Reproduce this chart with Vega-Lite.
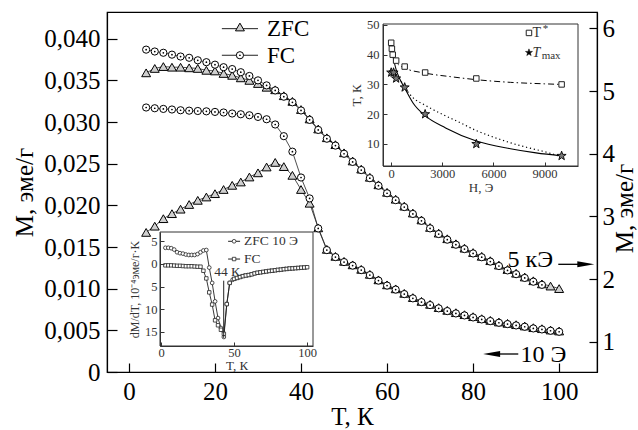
{
"$schema":"https://vega.github.io/schema/vega-lite/v6.json",
"width":490,"height":360,
"autosize":{"type":"none"},
"padding":{"left":107,"top":12,"right":41,"bottom":58},
"background":"white",
"config":{
 "view":{"stroke":"black","strokeWidth":1.2},
 "font":"Liberation Serif",
 "axis":{"grid":false,"domainColor":"black","domainWidth":1.2,"tickColor":"black","tickWidth":1.2,"labelColor":"black","titleColor":"black","labelFont":"Liberation Serif","titleFont":"Liberation Serif","titleFontWeight":"normal","labelOverlap":false,"labelFlush":false},
 "text":{"font":"Liberation Serif"}
},
"datasets":{
 "lo":[
  {"T":4,"M":0.01675,"k":"ZFC"},{"T":6,"M":0.0175,"k":"ZFC"},{"T":8,"M":0.0184,"k":"ZFC"},{"T":10,"M":0.019,"k":"ZFC"},{"T":12,"M":0.01954,"k":"ZFC"},{"T":14,"M":0.0201,"k":"ZFC"},{"T":16,"M":0.0206,"k":"ZFC"},{"T":18,"M":0.021,"k":"ZFC"},{"T":20,"M":0.0214,"k":"ZFC"},{"T":22,"M":0.0219,"k":"ZFC"},{"T":24,"M":0.0224,"k":"ZFC"},{"T":26,"M":0.0228,"k":"ZFC"},{"T":28,"M":0.0234,"k":"ZFC"},{"T":30,"M":0.0239,"k":"ZFC"},{"T":32,"M":0.0246,"k":"ZFC"},{"T":34,"M":0.02515,"k":"ZFC"},{"T":36,"M":0.02465,"k":"ZFC"},{"T":38,"M":0.0236,"k":"ZFC"},{"T":40,"M":0.0219,"k":"ZFC"},{"T":42,"M":0.02025,"k":"ZFC"},{"T":44,"M":0.0173,"k":"ZFC"},{"T":46,"M":0.01472,"k":"ZFC"},{"T":48,"M":0.01388,"k":"ZFC"},{"T":50,"M":0.01328,"k":"ZFC"},{"T":52,"M":0.01286,"k":"ZFC"},{"T":54,"M":0.01232,"k":"ZFC"},{"T":56,"M":0.01172,"k":"ZFC"},{"T":58,"M":0.01106,"k":"ZFC"},{"T":60,"M":0.01046,"k":"ZFC"},{"T":62,"M":0.00998,"k":"ZFC"},{"T":64,"M":0.00944,"k":"ZFC"},{"T":66,"M":0.00893,"k":"ZFC"},{"T":68,"M":0.00848,"k":"ZFC"},{"T":70,"M":0.00812,"k":"ZFC"},{"T":72,"M":0.00773,"k":"ZFC"},{"T":74,"M":0.0074,"k":"ZFC"},{"T":76,"M":0.00712,"k":"ZFC"},{"T":78,"M":0.00688,"k":"ZFC"},{"T":80,"M":0.00664,"k":"ZFC"},{"T":82,"M":0.0064,"k":"ZFC"},{"T":84,"M":0.0062,"k":"ZFC"},{"T":86,"M":0.006,"k":"ZFC"},{"T":88,"M":0.00584,"k":"ZFC"},{"T":90,"M":0.00568,"k":"ZFC"},{"T":92,"M":0.00552,"k":"ZFC"},{"T":94,"M":0.00532,"k":"ZFC"},{"T":96,"M":0.0052,"k":"ZFC"},{"T":98,"M":0.00504,"k":"ZFC"},{"T":100,"M":0.00492,"k":"ZFC"},
  {"T":4,"M":0.03174,"k":"FC"},{"T":6,"M":0.03165,"k":"FC"},{"T":8,"M":0.03157,"k":"FC"},{"T":10,"M":0.0315,"k":"FC"},{"T":12,"M":0.03141,"k":"FC"},{"T":14,"M":0.03136,"k":"FC"},{"T":16,"M":0.03132,"k":"FC"},{"T":18,"M":0.03128,"k":"FC"},{"T":20,"M":0.03121,"k":"FC"},{"T":22,"M":0.03114,"k":"FC"},{"T":24,"M":0.03102,"k":"FC"},{"T":26,"M":0.03093,"k":"FC"},{"T":28,"M":0.03081,"k":"FC"},{"T":30,"M":0.03061,"k":"FC"},{"T":32,"M":0.03033,"k":"FC"},{"T":34,"M":0.0297,"k":"FC"},{"T":36,"M":0.0283,"k":"FC"},{"T":38,"M":0.02644,"k":"FC"},{"T":40,"M":0.02334,"k":"FC"},{"T":42,"M":0.02083,"k":"FC"},{"T":44,"M":0.01723,"k":"FC"},{"T":46,"M":0.01463,"k":"FC"},{"T":48,"M":0.01379,"k":"FC"},{"T":50,"M":0.01319,"k":"FC"},{"T":52,"M":0.01277,"k":"FC"},{"T":54,"M":0.01223,"k":"FC"},{"T":56,"M":0.01163,"k":"FC"},{"T":58,"M":0.01097,"k":"FC"},{"T":60,"M":0.01037,"k":"FC"},{"T":62,"M":0.00989,"k":"FC"},{"T":64,"M":0.00935,"k":"FC"},{"T":66,"M":0.00884,"k":"FC"},{"T":68,"M":0.00839,"k":"FC"},{"T":70,"M":0.00803,"k":"FC"},{"T":72,"M":0.00764,"k":"FC"},{"T":74,"M":0.00731,"k":"FC"},{"T":76,"M":0.00703,"k":"FC"},{"T":78,"M":0.00679,"k":"FC"},{"T":80,"M":0.00655,"k":"FC"},{"T":82,"M":0.00631,"k":"FC"},{"T":84,"M":0.00611,"k":"FC"},{"T":86,"M":0.00591,"k":"FC"},{"T":88,"M":0.00575,"k":"FC"},{"T":90,"M":0.00559,"k":"FC"},{"T":92,"M":0.00543,"k":"FC"},{"T":94,"M":0.00523,"k":"FC"},{"T":96,"M":0.00511,"k":"FC"},{"T":98,"M":0.00495,"k":"FC"},{"T":100,"M":0.00483,"k":"FC"}
 ],
 "hi":[
  {"T":4,"M":5.29,"k":"ZFC"},{"T":6,"M":5.36,"k":"ZFC"},{"T":8,"M":5.39,"k":"ZFC"},{"T":10,"M":5.38,"k":"ZFC"},{"T":12,"M":5.38,"k":"ZFC"},{"T":14,"M":5.37,"k":"ZFC"},{"T":16,"M":5.36,"k":"ZFC"},{"T":18,"M":5.33,"k":"ZFC"},{"T":20,"M":5.32,"k":"ZFC"},{"T":22,"M":5.28,"k":"ZFC"},{"T":24,"M":5.25,"k":"ZFC"},{"T":26,"M":5.21,"k":"ZFC"},{"T":28,"M":5.17,"k":"ZFC"},{"T":30,"M":5.12,"k":"ZFC"},{"T":32,"M":5.06,"k":"ZFC"},{"T":34,"M":5.02,"k":"ZFC"},{"T":36,"M":4.925,"k":"ZFC"},{"T":38,"M":4.835,"k":"ZFC"},{"T":40,"M":4.705,"k":"ZFC"},{"T":42,"M":4.555,"k":"ZFC"},{"T":44,"M":4.395,"k":"ZFC"},{"T":46,"M":4.255,"k":"ZFC"},{"T":48,"M":4.145,"k":"ZFC"},{"T":50,"M":4.015,"k":"ZFC"},{"T":52,"M":3.885,"k":"ZFC"},{"T":54,"M":3.755,"k":"ZFC"},{"T":56,"M":3.625,"k":"ZFC"},{"T":58,"M":3.505,"k":"ZFC"},{"T":60,"M":3.385,"k":"ZFC"},{"T":62,"M":3.275,"k":"ZFC"},{"T":64,"M":3.165,"k":"ZFC"},{"T":66,"M":3.055,"k":"ZFC"},{"T":68,"M":2.945,"k":"ZFC"},{"T":70,"M":2.825,"k":"ZFC"},{"T":72,"M":2.735,"k":"ZFC"},{"T":74,"M":2.645,"k":"ZFC"},{"T":76,"M":2.565,"k":"ZFC"},{"T":78,"M":2.495,"k":"ZFC"},{"T":80,"M":2.425,"k":"ZFC"},{"T":82,"M":2.365,"k":"ZFC"},{"T":84,"M":2.295,"k":"ZFC"},{"T":86,"M":2.225,"k":"ZFC"},{"T":88,"M":2.155,"k":"ZFC"},{"T":90,"M":2.095,"k":"ZFC"},{"T":92,"M":2.035,"k":"ZFC"},{"T":94,"M":1.975,"k":"ZFC"},{"T":96,"M":1.925,"k":"ZFC"},{"T":98,"M":1.89,"k":"ZFC"},{"T":100,"M":1.85,"k":"ZFC"},
  {"T":4,"M":5.66,"k":"FC"},{"T":6,"M":5.63,"k":"FC"},{"T":8,"M":5.61,"k":"FC"},{"T":10,"M":5.58,"k":"FC"},{"T":12,"M":5.55,"k":"FC"},{"T":14,"M":5.53,"k":"FC"},{"T":16,"M":5.49,"k":"FC"},{"T":18,"M":5.46,"k":"FC"},{"T":20,"M":5.42,"k":"FC"},{"T":22,"M":5.38,"k":"FC"},{"T":24,"M":5.35,"k":"FC"},{"T":26,"M":5.3,"k":"FC"},{"T":28,"M":5.24,"k":"FC"},{"T":30,"M":5.17,"k":"FC"},{"T":32,"M":5.09,"k":"FC"},{"T":34,"M":5.01,"k":"FC"},{"T":36,"M":4.91,"k":"FC"},{"T":38,"M":4.82,"k":"FC"},{"T":40,"M":4.69,"k":"FC"},{"T":42,"M":4.54,"k":"FC"},{"T":44,"M":4.38,"k":"FC"},{"T":46,"M":4.24,"k":"FC"},{"T":48,"M":4.13,"k":"FC"},{"T":50,"M":4.0,"k":"FC"},{"T":52,"M":3.87,"k":"FC"},{"T":54,"M":3.74,"k":"FC"},{"T":56,"M":3.61,"k":"FC"},{"T":58,"M":3.49,"k":"FC"},{"T":60,"M":3.37,"k":"FC"},{"T":62,"M":3.26,"k":"FC"},{"T":64,"M":3.15,"k":"FC"},{"T":66,"M":3.04,"k":"FC"},{"T":68,"M":2.93,"k":"FC"},{"T":70,"M":2.81,"k":"FC"},{"T":72,"M":2.72,"k":"FC"},{"T":74,"M":2.63,"k":"FC"},{"T":76,"M":2.55,"k":"FC"},{"T":78,"M":2.48,"k":"FC"},{"T":80,"M":2.41,"k":"FC"},{"T":82,"M":2.35,"k":"FC"},{"T":84,"M":2.28,"k":"FC"},{"T":86,"M":2.21,"k":"FC"},{"T":88,"M":2.14,"k":"FC"},{"T":90,"M":2.08,"k":"FC"},{"T":92,"M":2.02,"k":"FC"},{"T":94,"M":1.96,"k":"FC"},{"T":96,"M":1.91,"k":"FC"}
 ],
 "dd":[
  {"T":3,"d":3.6,"k":"ZFC"},{"T":5,"d":3.6,"k":"ZFC"},{"T":7,"d":3.5,"k":"ZFC"},{"T":9,"d":3.2,"k":"ZFC"},{"T":11,"d":2.6,"k":"ZFC"},{"T":13,"d":2.4,"k":"ZFC"},{"T":15,"d":2.3,"k":"ZFC"},{"T":17,"d":2.1,"k":"ZFC"},{"T":19,"d":2.0,"k":"ZFC"},{"T":21,"d":2.0,"k":"ZFC"},{"T":23,"d":2.0,"k":"ZFC"},{"T":25,"d":2.2,"k":"ZFC"},{"T":27,"d":2.6,"k":"ZFC"},{"T":29,"d":3.0,"k":"ZFC"},{"T":31,"d":3.1,"k":"ZFC"},{"T":33,"d":-0.8,"k":"ZFC"},{"T":35,"d":-4.2,"k":"ZFC"},{"T":37,"d":-8.3,"k":"ZFC"},{"T":39,"d":-12.0,"k":"ZFC"},{"T":41,"d":-14.2,"k":"ZFC"},{"T":43,"d":-16.2,"k":"ZFC"},{"T":45,"d":-8.9,"k":"ZFC"},{"T":47,"d":-4.2,"k":"ZFC"},{"T":49,"d":-3.5,"k":"ZFC"},{"T":51,"d":-3.2,"k":"ZFC"},{"T":53,"d":-3.0,"k":"ZFC"},{"T":55,"d":-2.8,"k":"ZFC"},{"T":57,"d":-2.6,"k":"ZFC"},{"T":59,"d":-2.5,"k":"ZFC"},{"T":61,"d":-2.4,"k":"ZFC"},{"T":63,"d":-2.2,"k":"ZFC"},{"T":65,"d":-2.0,"k":"ZFC"},{"T":67,"d":-1.9,"k":"ZFC"},{"T":69,"d":-1.8,"k":"ZFC"},{"T":71,"d":-1.7,"k":"ZFC"},{"T":73,"d":-1.6,"k":"ZFC"},{"T":75,"d":-1.5,"k":"ZFC"},{"T":77,"d":-1.45,"k":"ZFC"},{"T":79,"d":-1.35,"k":"ZFC"},{"T":81,"d":-1.3,"k":"ZFC"},{"T":83,"d":-1.2,"k":"ZFC"},{"T":85,"d":-1.1,"k":"ZFC"},{"T":87,"d":-1.05,"k":"ZFC"},{"T":89,"d":-1.0,"k":"ZFC"},{"T":91,"d":-0.95,"k":"ZFC"},{"T":93,"d":-0.9,"k":"ZFC"},{"T":95,"d":-0.85,"k":"ZFC"},{"T":97,"d":-0.8,"k":"ZFC"},{"T":99,"d":-0.75,"k":"ZFC"},
  {"T":3,"d":-0.3,"k":"FC"},{"T":5,"d":-0.3,"k":"FC"},{"T":7,"d":-0.3,"k":"FC"},{"T":9,"d":-0.35,"k":"FC"},{"T":11,"d":-0.4,"k":"FC"},{"T":13,"d":-0.4,"k":"FC"},{"T":15,"d":-0.45,"k":"FC"},{"T":17,"d":-0.5,"k":"FC"},{"T":19,"d":-0.5,"k":"FC"},{"T":21,"d":-0.5,"k":"FC"},{"T":23,"d":-0.55,"k":"FC"},{"T":25,"d":-0.6,"k":"FC"},{"T":27,"d":-0.6,"k":"FC"},{"T":29,"d":-1.5,"k":"FC"},{"T":31,"d":-3.2,"k":"FC"},{"T":33,"d":-6.3,"k":"FC"},{"T":35,"d":-9.0,"k":"FC"},{"T":37,"d":-12.5,"k":"FC"},{"T":39,"d":-13.6,"k":"FC"},{"T":41,"d":-14.6,"k":"FC"},{"T":43,"d":-15.5,"k":"FC"},{"T":45,"d":-8.9,"k":"FC"},{"T":47,"d":-4.2,"k":"FC"},{"T":50,"d":-3.3,"k":"FC"},{"T":52,"d":-3.1,"k":"FC"},{"T":54,"d":-2.9,"k":"FC"},{"T":56,"d":-2.7,"k":"FC"},{"T":58,"d":-2.55,"k":"FC"},{"T":60,"d":-2.45,"k":"FC"},{"T":62,"d":-2.3,"k":"FC"},{"T":64,"d":-2.1,"k":"FC"},{"T":66,"d":-1.95,"k":"FC"},{"T":68,"d":-1.85,"k":"FC"},{"T":70,"d":-1.75,"k":"FC"},{"T":72,"d":-1.65,"k":"FC"},{"T":74,"d":-1.55,"k":"FC"},{"T":76,"d":-1.5,"k":"FC"},{"T":78,"d":-1.4,"k":"FC"},{"T":80,"d":-1.3,"k":"FC"},{"T":82,"d":-1.25,"k":"FC"},{"T":84,"d":-1.15,"k":"FC"},{"T":86,"d":-1.1,"k":"FC"},{"T":88,"d":-1.0,"k":"FC"},{"T":90,"d":-0.98,"k":"FC"},{"T":92,"d":-0.92,"k":"FC"},{"T":94,"d":-0.88,"k":"FC"},{"T":96,"d":-0.82,"k":"FC"},{"T":98,"d":-0.78,"k":"FC"},{"T":100,"d":-0.72,"k":"FC"}
 ],
 "tp":[
  {"H":10,"T":44,"k":"T*"},{"H":50,"T":42,"k":"T*"},{"H":100,"T":40,"k":"T*"},{"H":300,"T":38,"k":"T*"},{"H":800,"T":36,"k":"T*"},{"H":2000,"T":34,"k":"T*"},{"H":5000,"T":32,"k":"T*"},{"H":10000,"T":30,"k":"T*"},
  {"H":10,"T":34,"k":"Tmax"},{"H":150,"T":34,"k":"Tmax"},{"H":300,"T":32,"k":"Tmax"},{"H":800,"T":29,"k":"Tmax"},{"H":2000,"T":20,"k":"Tmax"},{"H":5000,"T":10,"k":"Tmax"},{"H":10000,"T":6,"k":"Tmax"}
 ],
 "fits":[
  {"H":0,"T":43.5,"c":"s"},{"H":100,"T":40,"c":"s"},{"H":200,"T":37.2,"c":"s"},{"H":300,"T":35,"c":"s"},{"H":500,"T":32,"c":"s"},{"H":800,"T":28.8,"c":"s"},{"H":1300,"T":23.7,"c":"s"},{"H":2000,"T":19.5,"c":"s"},{"H":3200,"T":15.4,"c":"s"},{"H":5000,"T":11,"c":"s"},{"H":7000,"T":8.4,"c":"s"},{"H":8500,"T":7,"c":"s"},{"H":10000,"T":6,"c":"s"},
  {"H":600,"T":31,"c":"d"},{"H":800,"T":29,"c":"d"},{"H":1300,"T":25.5,"c":"d"},{"H":2000,"T":23,"c":"d"},{"H":3000,"T":20,"c":"d"},{"H":4000,"T":17.3,"c":"d"},{"H":5000,"T":14.5,"c":"d"},{"H":6000,"T":12.3,"c":"d"},{"H":7000,"T":10.4,"c":"d"},{"H":8000,"T":8.8,"c":"d"},{"H":9000,"T":7.4,"c":"d"},{"H":10000,"T":5.7,"c":"d"},
  {"H":10,"T":44,"c":"dd"},{"H":50,"T":42,"c":"dd"},{"H":100,"T":40,"c":"dd"},{"H":300,"T":37.5,"c":"dd"},{"H":800,"T":35.5,"c":"dd"},{"H":2000,"T":33.8,"c":"dd"},{"H":3500,"T":32.6,"c":"dd"},{"H":5000,"T":31.6,"c":"dd"},{"H":7000,"T":30.7,"c":"dd"},{"H":9000,"T":30.2,"c":"dd"},{"H":10000,"T":30,"c":"dd"}
 ]
},
"layer":[
 {
  "layer":[
   {
    "layer":[
     {
      "data":{"name":"lo"},
      "encoding":{
       "x":{"field":"T","type":"quantitative","scale":{"domain":[-5.1,108.8],"nice":false,"zero":false},"axis":{"orient":"bottom","title":"T, К","values":[0,20,40,60,80,100],"tickSize":-9,"labelPadding":16,"labelFontSize":25,"titleFontSize":25,"titlePadding":0}},
       "y":{"field":"M","type":"quantitative","scale":{"domain":[0,0.0432],"nice":false,"zero":false},"axis":{"orient":"left","title":"M, эме/г","values":[0,0.005,0.01,0.015,0.02,0.025,0.03,0.035,0.04],"labelExpr":"datum.value == 0 ? '0' : replace(format(datum.value, '.3f'), '.', ',')","tickSize":-10,"labelPadding":17,"labelFontSize":25,"titleFontSize":25,"titlePadding":6}}
      },
      "layer":[
       {"mark":{"type":"line","stroke":"#222","strokeWidth":0.8},"encoding":{"detail":{"field":"k","type":"nominal"}}},
       {"mark":{"type":"point","filled":true,"opacity":1,"stroke":"black","strokeWidth":1},
        "encoding":{
         "shape":{"field":"k","type":"nominal","scale":{"domain":["ZFC","FC"],"range":["triangle-up","circle"]},"legend":null},
         "fill":{"condition":{"test":"datum.k == 'ZFC'","value":"#cfcfcf"},"value":"white"},
         "size":{"condition":{"test":"datum.k == 'ZFC'","value":80},"value":52}
        }},
       {"transform":[{"filter":"datum.k == 'FC'"}],"mark":{"type":"point","shape":"circle","filled":true,"opacity":1,"fill":"black","size":3}}
      ]
     },
     {"data":{"values":[{}]},"mark":{"type":"rule","stroke":"black","strokeWidth":1.3},"encoding":{"x":{"datum":85},"x2":{"datum":90.5},"y":{"datum":0.00216}}},
     {"data":{"values":[{}]},"mark":{"type":"point","shape":"M-1,0 L1,-0.35 L1,0.35 Z","filled":true,"opacity":1,"fill":"black","size":289},"encoding":{"x":{"datum":84.3},"y":{"datum":0.00216}}},
     {"data":{"values":[{}]},"mark":{"type":"text","text":"10 Э","align":"left","baseline":"middle","fontSize":24,"font":"Liberation Serif","color":"black"},"encoding":{"x":{"datum":91},"y":{"datum":0.00204}}},
     {"data":{"values":[{}]},"mark":{"type":"rule","stroke":"#222","strokeWidth":1},"encoding":{"x":{"datum":21.6},"x2":{"datum":30},"y":{"datum":0.0412}}},
     {"data":{"values":[{}]},"mark":{"type":"point","shape":"triangle-up","filled":true,"opacity":1,"fill":"#cfcfcf","stroke":"black","strokeWidth":1,"size":80},"encoding":{"x":{"datum":25.8},"y":{"datum":0.0414}}},
     {"data":{"values":[{}]},"mark":{"type":"text","text":"ZFC","align":"left","baseline":"middle","fontSize":23,"font":"Liberation Serif","color":"black"},"encoding":{"x":{"datum":32.1},"y":{"datum":0.04113}}},
     {"data":{"values":[{}]},"mark":{"type":"rule","stroke":"#222","strokeWidth":1},"encoding":{"x":{"datum":21.6},"x2":{"datum":30},"y":{"datum":0.03801}}},
     {"data":{"values":[{}]},"mark":{"type":"point","shape":"circle","filled":true,"opacity":1,"fill":"white","stroke":"black","strokeWidth":1,"size":52},"encoding":{"x":{"datum":25.8},"y":{"datum":0.03801}}},
     {"data":{"values":[{}]},"mark":{"type":"point","shape":"circle","filled":true,"opacity":1,"fill":"black","size":3},"encoding":{"x":{"datum":25.8},"y":{"datum":0.03801}}},
     {"data":{"values":[{}]},"mark":{"type":"text","text":"FC","align":"left","baseline":"middle","fontSize":23,"font":"Liberation Serif","color":"black"},"encoding":{"x":{"datum":32.1},"y":{"datum":0.0379}}}
    ]
   },
   {
    "layer":[
     {
      "data":{"name":"hi"},
      "encoding":{
       "x":{"field":"T","type":"quantitative","scale":{"domain":[-5.1,108.8],"nice":false,"zero":false},"axis":{"orient":"bottom","title":"T, К","values":[0,20,40,60,80,100],"tickSize":-9,"labelPadding":16,"labelFontSize":25,"titleFontSize":25,"titlePadding":0}},
       "y":{"field":"M","type":"quantitative","scale":{"domain":[0.52,6.26],"nice":false,"zero":false},"axis":{"orient":"right","title":"M, эме/г","titleAngle":270,"titleBaseline":"top","titleY":196,"values":[1,1.5,2,2.5,3,3.5,4,4.5,5,5.5,6],"labelExpr":"datum.value % 1 == 0 ? format(datum.value, 'd') : ''","tickSize":-8,"labelPadding":13,"labelFontSize":25,"titleFontSize":25,"titlePadding":-2}}
      },
      "layer":[
       {"mark":{"type":"line","stroke":"#222","strokeWidth":0.8},"encoding":{"detail":{"field":"k","type":"nominal"}}},
       {"mark":{"type":"point","filled":true,"opacity":1,"stroke":"black","strokeWidth":1},
        "encoding":{
         "shape":{"field":"k","type":"nominal","scale":{"domain":["ZFC","FC"],"range":["triangle-up","circle"]},"legend":null},
         "fill":{"condition":{"test":"datum.k == 'ZFC'","value":"#cfcfcf"},"value":"white"},
         "size":{"condition":{"test":"datum.k == 'ZFC'","value":80},"value":52}
        }},
       {"transform":[{"filter":"datum.k == 'FC'"}],"mark":{"type":"point","shape":"circle","filled":true,"opacity":1,"fill":"black","size":3}}
      ]
     },
     {"data":{"values":[{}]},"mark":{"type":"rule","stroke":"black","strokeWidth":1.3},"encoding":{"x":{"datum":99.8},"x2":{"datum":105},"y":{"datum":2.237}}},
     {"data":{"values":[{}]},"mark":{"type":"point","shape":"M1,0 L-1,-0.35 L-1,0.35 Z","filled":true,"opacity":1,"fill":"black","size":289},"encoding":{"x":{"datum":106.2},"y":{"datum":2.237}}},
     {"data":{"values":[{}]},"mark":{"type":"text","text":"5 кЭ","align":"right","baseline":"middle","fontSize":24,"font":"Liberation Serif","color":"black"},"encoding":{"x":{"datum":98.6},"y":{"datum":2.31}}}
    ]
   }
  ],
  "resolve":{"scale":{"y":"independent"},"axis":{"y":"independent"}}
 },
 {
  "layer":[
   {"data":{"values":[{}]},"mark":{"type":"rect","fill":"white","stroke":"#333","strokeWidth":1},"encoding":{"x":{"datum":-0.7},"x2":{"datum":104},"y":{"datum":-18.2},"y2":{"datum":7.1}}},
   {
    "data":{"name":"dd"},
    "encoding":{
     "x":{"field":"T","type":"quantitative","scale":{"domain":[-0.7,104],"range":[53,206],"nice":false,"zero":false},"axis":{"orient":"bottom","title":"T, К","values":[0,50,100],"offset":-26,"tickSize":-4,"labelPadding":4,"labelFontSize":12.5,"titleFontSize":13,"titlePadding":1,"zindex":1,"labelColor":"#333","titleColor":"#333","domainColor":"#333","tickColor":"#333","domainWidth":1,"tickWidth":1}},
     "y":{"field":"d","type":"quantitative","scale":{"domain":[-18.2,7.1],"range":[334,220],"nice":false,"zero":false},"axis":{"orient":"left","title":"dM/dT, 10⁻⁴эме/г·K","values":[-15,-10,-5,0,5],"labelExpr":"format(abs(datum.value), 'd')","offset":-53,"tickSize":-4,"labelPadding":7,"labelFontSize":12.5,"titleFontSize":12,"titlePadding":3,"zindex":1,"labelColor":"#333","titleColor":"#333","domainColor":"#333","tickColor":"#333","domainWidth":1,"tickWidth":1}}
    },
    "layer":[
     {"mark":{"type":"line","stroke":"#222","strokeWidth":0.9},"encoding":{"detail":{"field":"k","type":"nominal"}}},
     {"transform":[{"filter":"datum.k == 'ZFC'"}],"mark":{"type":"point","shape":"circle","filled":true,"opacity":1,"fill":"white","stroke":"#222","strokeWidth":0.8,"size":14}},
     {"transform":[{"filter":"datum.k == 'FC'"}],"mark":{"type":"point","shape":"square","filled":true,"opacity":1,"fill":"white","stroke":"#222","strokeWidth":0.8,"size":12}}
    ]
   },
   {"data":{"values":[{}]},"mark":{"type":"rule","stroke":"#222","strokeWidth":1},"encoding":{"x":{"datum":42.9},"y":{"datum":-3.7},"y2":{"datum":-16.4}}},
   {"data":{"values":[{}]},"mark":{"type":"text","text":"44 К","align":"center","baseline":"middle","fontSize":13.5,"font":"Liberation Serif","color":"#333"},"encoding":{"x":{"datum":45.2},"y":{"datum":-1.85}}},
   {"data":{"values":[{}]},"mark":{"type":"rule","stroke":"#222","strokeWidth":1},"encoding":{"x":{"datum":45.9},"x2":{"datum":54.1},"y":{"datum":5.04}}},
   {"data":{"values":[{}]},"mark":{"type":"point","shape":"circle","filled":true,"opacity":1,"fill":"white","stroke":"#222","strokeWidth":0.8,"size":14},"encoding":{"x":{"datum":50},"y":{"datum":5.04}}},
   {"data":{"values":[{}]},"mark":{"type":"text","text":"ZFC 10 Э","align":"left","baseline":"middle","fontSize":13.5,"font":"Liberation Serif","color":"#333"},"encoding":{"x":{"datum":56.8},"y":{"datum":5.04}}},
   {"data":{"values":[{}]},"mark":{"type":"rule","stroke":"#222","strokeWidth":1},"encoding":{"x":{"datum":45.9},"x2":{"datum":54.1},"y":{"datum":1.1}}},
   {"data":{"values":[{}]},"mark":{"type":"point","shape":"square","filled":true,"opacity":1,"fill":"white","stroke":"#222","strokeWidth":0.8,"size":12},"encoding":{"x":{"datum":50},"y":{"datum":1.1}}},
   {"data":{"values":[{}]},"mark":{"type":"text","text":"FC","align":"left","baseline":"middle","fontSize":13.5,"font":"Liberation Serif","color":"#333"},"encoding":{"x":{"datum":56.8},"y":{"datum":1.1}}}
  ]
 },
 {
  "layer":[
   {"data":{"values":[{}]},"mark":{"type":"rect","fill":"white","stroke":"#333","strokeWidth":1},"encoding":{"x":{"datum":-470},"x2":{"datum":10960},"y":{"datum":2.6},"y2":{"datum":50.3}}},
   {
    "data":{"name":"fits"},
    "encoding":{
     "x":{"field":"H","type":"quantitative","scale":{"domain":[-470,10960],"range":[276,471],"nice":false,"zero":false},"axis":{"orient":"bottom","title":"H, Э","values":[0,3000,6000,9000],"labelExpr":"format(datum.value, 'd')","offset":-206,"tickSize":-4,"labelPadding":5,"labelFontSize":12.5,"titleFontSize":13,"titlePadding":2,"zindex":1,"labelColor":"#333","titleColor":"#333","domainColor":"#333","tickColor":"#333","domainWidth":1,"tickWidth":1}},
     "y":{"field":"T","type":"quantitative","scale":{"domain":[2.6,50.3],"range":[154,12],"nice":false,"zero":false},"axis":{"orient":"left","title":"T, К","values":[10,20,30,40,50],"format":"d","offset":-276,"tickSize":-4,"labelPadding":8,"labelFontSize":12.5,"titleFontSize":13,"titlePadding":3,"zindex":1,"labelColor":"#333","titleColor":"#333","domainColor":"#333","tickColor":"#333","domainWidth":1,"tickWidth":1}}
    },
    "layer":[
     {"transform":[{"filter":"datum.c == 's'"}],"mark":{"type":"line","interpolate":"monotone","stroke":"black","strokeWidth":1.1}},
     {"transform":[{"filter":"datum.c == 'd'"}],"mark":{"type":"line","interpolate":"monotone","stroke":"black","strokeWidth":1.2,"strokeDash":[1.2,2.8]}},
     {"transform":[{"filter":"datum.c == 'dd'"}],"mark":{"type":"line","interpolate":"monotone","stroke":"black","strokeWidth":1,"strokeDash":[6,3,1.5,3]}}
    ]
   },
   {
    "data":{"name":"tp"},
    "encoding":{
     "x":{"field":"H","type":"quantitative","scale":{"domain":[-470,10960],"range":[276,471],"nice":false,"zero":false},"axis":{"orient":"bottom","title":"H, Э","values":[0,3000,6000,9000],"labelExpr":"format(datum.value, 'd')","offset":-206,"tickSize":-4,"labelPadding":5,"labelFontSize":12.5,"titleFontSize":13,"titlePadding":2,"zindex":1,"labelColor":"#333","titleColor":"#333","domainColor":"#333","tickColor":"#333","domainWidth":1,"tickWidth":1}},
     "y":{"field":"T","type":"quantitative","scale":{"domain":[2.6,50.3],"range":[154,12],"nice":false,"zero":false},"axis":{"orient":"left","title":"T, К","values":[10,20,30,40,50],"format":"d","offset":-276,"tickSize":-4,"labelPadding":8,"labelFontSize":12.5,"titleFontSize":13,"titlePadding":3,"zindex":1,"labelColor":"#333","titleColor":"#333","domainColor":"#333","tickColor":"#333","domainWidth":1,"tickWidth":1}}
    },
    "layer":[
     {"transform":[{"filter":"datum.k == 'T*'"}],"mark":{"type":"point","shape":"square","filled":true,"opacity":1,"fill":"white","stroke":"#222","strokeWidth":1,"size":30}},
     {"transform":[{"filter":"datum.k == 'Tmax'"}],"mark":{"type":"point","shape":"M0,-1 L0.235,-0.324 L0.951,-0.309 L0.38,0.124 L0.588,0.809 L0,0.4 L-0.588,0.809 L-0.38,0.124 L-0.951,-0.309 L-0.235,-0.324 Z","filled":true,"opacity":1,"fill":"#777","stroke":"black","strokeWidth":0.9,"size":90}}
    ]
   },
   {"data":{"values":[{}]},"mark":{"type":"point","shape":"square","filled":true,"opacity":1,"fill":"white","stroke":"#222","strokeWidth":1,"size":30},"encoding":{"x":{"datum":8086},"y":{"datum":47.3}}},
   {"data":{"values":[{}]},"mark":{"type":"text","text":"T","align":"left","baseline":"middle","fontSize":14,"font":"Liberation Serif","color":"#333"},"encoding":{"x":{"datum":8300},"y":{"datum":47.3}}},
   {"data":{"values":[{}]},"mark":{"type":"text","text":"*","align":"left","baseline":"middle","fontSize":11,"font":"Liberation Serif","color":"#333"},"encoding":{"x":{"datum":8900},"y":{"datum":48.6}}},
   {"data":{"values":[{}]},"mark":{"type":"point","shape":"M0,-1 L0.235,-0.324 L0.951,-0.309 L0.38,0.124 L0.588,0.809 L0,0.4 L-0.588,0.809 L-0.38,0.124 L-0.951,-0.309 L-0.235,-0.324 Z","filled":true,"opacity":1,"fill":"black","stroke":"black","strokeWidth":0.5,"size":55},"encoding":{"x":{"datum":8086},"y":{"datum":40.7}}},
   {"data":{"values":[{}]},"mark":{"type":"text","text":"T","align":"left","baseline":"middle","fontSize":14,"fontStyle":"italic","font":"Liberation Serif","color":"#333"},"encoding":{"x":{"datum":8300},"y":{"datum":40.7}}},
   {"data":{"values":[{}]},"mark":{"type":"text","text":"max","align":"left","baseline":"middle","fontSize":11,"font":"Liberation Serif","color":"#333"},"encoding":{"x":{"datum":8830},"y":{"datum":39.4}}}
  ]
 }
],
"resolve":{"scale":{"x":"independent","y":"independent"},"axis":{"x":"independent","y":"independent"}}
}
